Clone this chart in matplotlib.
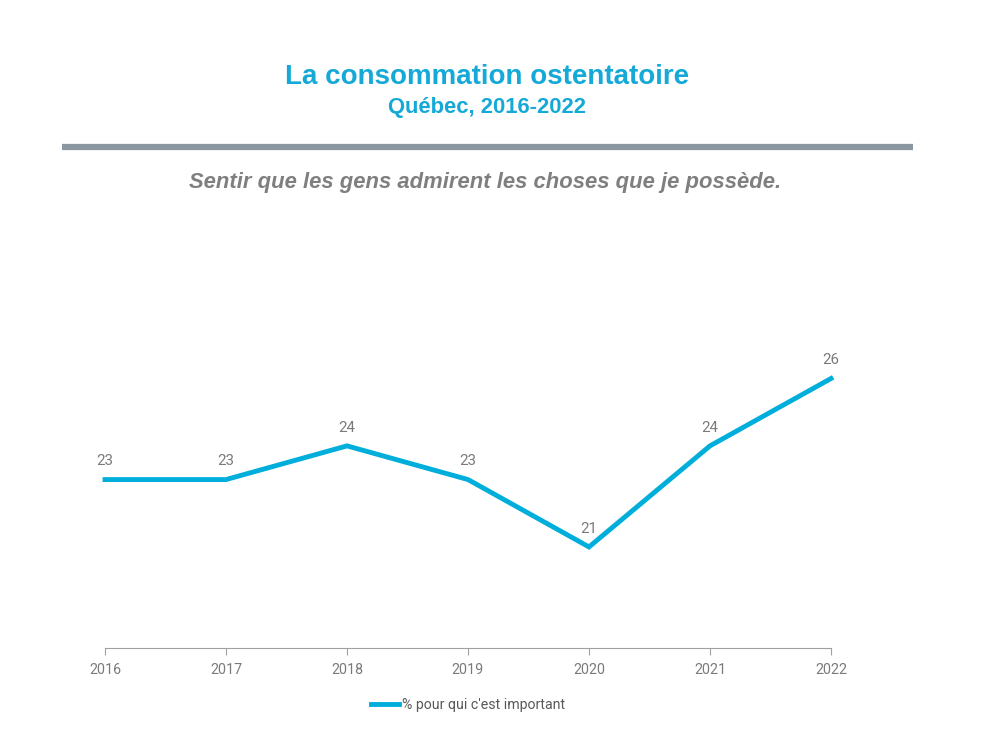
import matplotlib.pyplot as plt
from matplotlib.lines import Line2D

# données
annees = [2016, 2017, 2018, 2019, 2020, 2021, 2022]
valeurs = [23, 23, 24, 23, 21, 24, 26]
serie = "% pour qui c'est important"

bleu = '#00AEDB'
gris = '#7a7a7a'

fig = plt.figure(figsize=(10, 7.5), dpi=100)
fig.patch.set_facecolor('white')

# titres
fig.text(0.487, 0.898, "La consommation ostentatoire", ha='center', va='center',
         fontsize=20, fontweight='bold', color='#14A9D6', family='Liberation Sans')
fig.text(0.487, 0.857, "Québec, 2016-2022", ha='center', va='center',
         fontsize=15.8, fontweight='bold', color='#14A9D6', family='Liberation Sans')
# barre grise
fig.add_artist(Line2D([0.062, 0.913], [0.804, 0.804], transform=fig.transFigure,
                      color='#8C969F', linewidth=4.5, solid_capstyle='butt'))
fig.text(0.485, 0.757, "Sentir que les gens admirent les choses que je possède.",
         ha='center', va='center', fontsize=15.8, fontweight='bold', style='italic',
         color='#7F7F7F', family='Liberation Sans')

ax = fig.add_axes([0.105, 0.136, 0.726, 0.539])
ax.plot(annees, valeurs, color=bleu, linewidth=3.5, solid_joinstyle='miter',
        label=serie, clip_on=False)
for x, y in zip(annees, valeurs):
    ax.annotate(str(y), (x, y), xytext=(0, 8), textcoords='offset points',
                ha='center', va='bottom', fontsize=10.8, color=gris, family='Roboto')

ax.set_xlim(2016, 2022)
ax.set_ylim(18, 30)
ax.set_xticks(annees)
ax.set_xticklabels([str(a) for a in annees], fontsize=10.3, color=gris, family='Roboto')
ax.set_yticks([])
for s in ['top', 'right', 'left']:
    ax.spines[s].set_visible(False)
ax.spines['bottom'].set_color('#a0a0a0')
ax.tick_params(axis='x', length=5, color='#a0a0a0', pad=6)

leg = ax.legend(loc='center', bbox_to_anchor=(0.5, -0.14), frameon=False,
                handlelength=2.0, handletextpad=0.2,
                prop={'family': 'Roboto', 'size': 10.2})
for t in leg.get_texts():
    t.set_color('#595959')

fig.savefig('out.png', dpi=100, facecolor='white')
